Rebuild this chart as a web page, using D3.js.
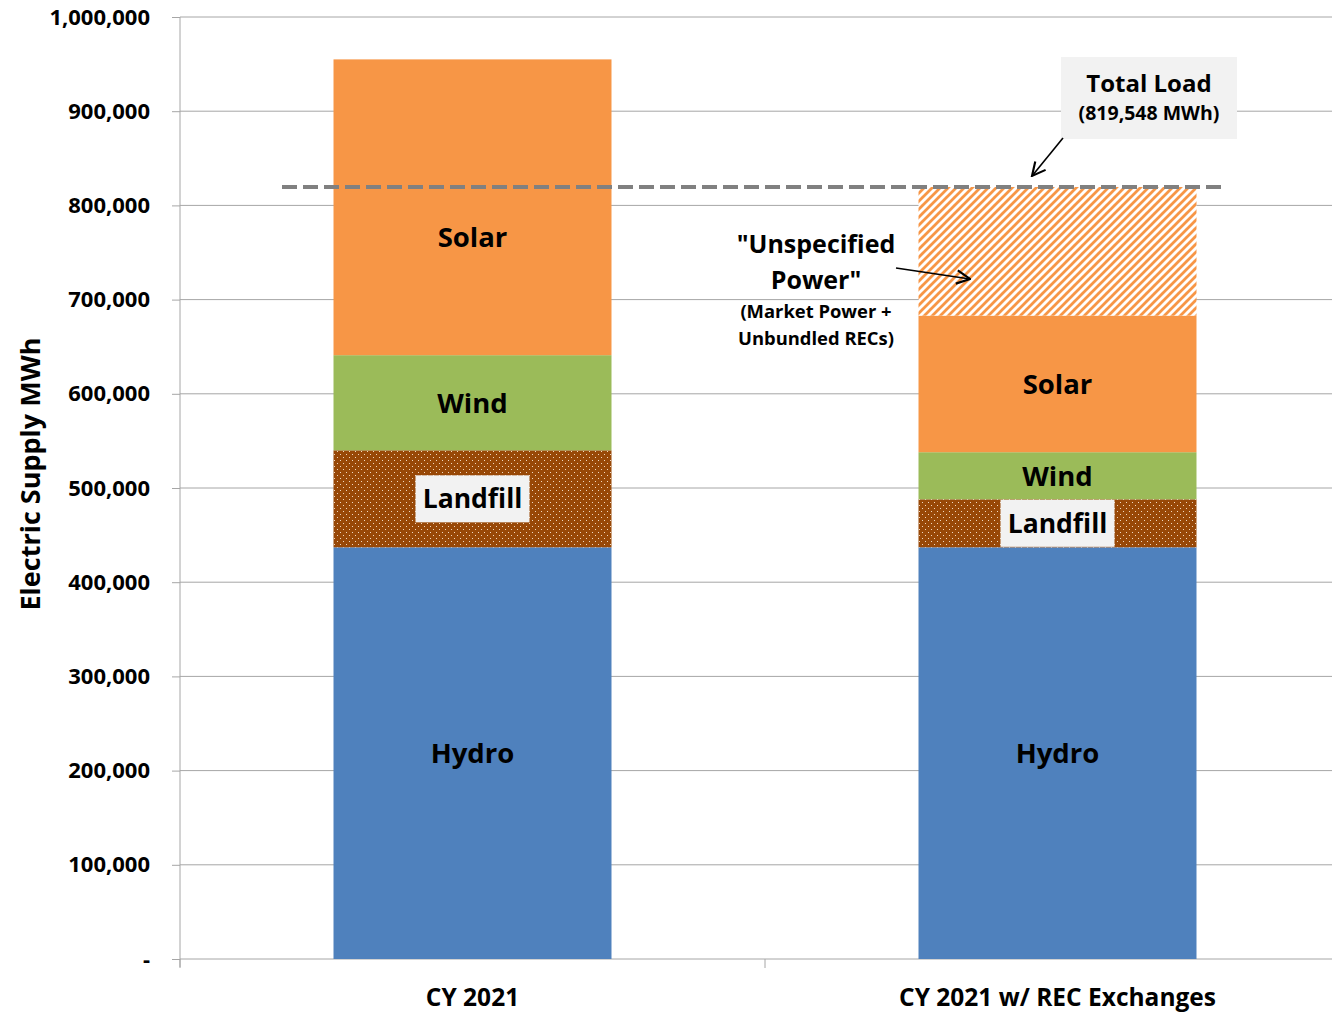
<!DOCTYPE html>
<html><head><meta charset="utf-8">
<script src="https://cdn.jsdelivr.net/npm/d3@7"></script>
<style>body{margin:0;background:#fff;} text{font-family:"Open Sans",sans-serif;font-weight:bold;fill:#000;}</style>
</head><body>
<svg id="c" width="1332" height="1016"></svg>
<script>
const categories = ["CY 2021", "CY 2021 w/ REC Exchanges"];
const seriesNames = ["Hydro", "Landfill", "Wind", "Solar", "Unspecified"];
const hydro = [437000, 437000];
const landfill = [103000, 51000];
const wind = [101000, 50000];
const solar = [314000, 145000];
const unspecified = [0, 136548];
const totalLoad = 819548;
const yTicks = [0, 100000, 200000, 300000, 400000, 500000, 600000, 700000, 800000, 900000, 1000000];
const segLabels = ["Hydro", "Landfill", "Wind", "Solar", ""];

const colors = {Hydro:"#4f81bd", Landfill:"url(#dots)", Wind:"#9bbb59", Solar:"#f79646", Unspecified:"url(#hatch)"};

const svg = d3.select("#c");
const defs = svg.append("defs");
const pd = defs.append("pattern").attr("id","dots").attr("patternUnits","userSpaceOnUse").attr("width",6).attr("height",6);
pd.append("rect").attr("width",6).attr("height",6).attr("fill","#984807");
pd.append("rect").attr("x",1).attr("y",1).attr("width",1).attr("height",1).attr("fill","#f0d8c0");
pd.append("rect").attr("x",4).attr("y",4).attr("width",1).attr("height",1).attr("fill","#f0d8c0");
const ph = defs.append("pattern").attr("id","hatch").attr("patternUnits","userSpaceOnUse").attr("width",8).attr("height",8);
ph.append("rect").attr("width",8).attr("height",8).attr("fill","#fff");
ph.append("path").attr("d","M-2,2 L2,-2 M0,8 L8,0 M6,10 L10,6").attr("stroke","#f79646").attr("stroke-width",2.8);
const mk = defs.append("marker").attr("id","arr").attr("viewBox","0 0 12 12").attr("refX",11).attr("refY",6)
  .attr("markerWidth",16).attr("markerHeight",16).attr("markerUnits","userSpaceOnUse").attr("orient","auto");
mk.append("path").attr("d","M1,1 L11,6 L1,11").attr("fill","none").attr("stroke","#000").attr("stroke-width",1.6);

const y = d3.scaleLinear().domain([0,1000000]).range([959,17]);
const x = d3.scaleBand().domain(categories).range([180,1350]).paddingInner(0.5248).paddingOuter(0.2624);

// gridlines
svg.append("g").selectAll("line").data(yTicks.slice(1)).join("line")
  .attr("x1",180).attr("x2",1332).attr("y1",d=>y(d)).attr("y2",d=>y(d))
  .attr("stroke","#a6a6a6").attr("stroke-width",1);

// y axis
const yAxis = svg.append("g").attr("transform","translate(180,0)")
  .call(d3.axisLeft(y).tickValues(yTicks).tickSize(8).tickPadding(22)
    .tickFormat(d=> d===0 ? "-" : d3.format(",")(d)));
yAxis.select(".domain").attr("stroke","#a6a6a6").attr("d","M0,17V967");
yAxis.selectAll(".tick line").attr("stroke","#a6a6a6");
yAxis.selectAll("text").style("font-size","22px").attr("fill","#000").style("font-family","'Open Sans',sans-serif").style("font-weight","bold");

// x axis
const xAxis = svg.append("g").attr("transform","translate(0,959)");
xAxis.append("line").attr("x1",180).attr("x2",1332).attr("y1",0).attr("y2",0).attr("stroke","#a6a6a6");
const sep = [x.range()[0], (x(categories[0])+x.bandwidth()/2 + x(categories[1])+x.bandwidth()/2)/2];
xAxis.selectAll(".sep").data(sep).join("line").attr("x1",d=>d).attr("x2",d=>d).attr("y1",0).attr("y2",9).attr("stroke","#a6a6a6");
xAxis.selectAll(".cl").data(categories).join("text")
  .attr("x",d=>x(d)+x.bandwidth()/2).attr("y",47).attr("text-anchor","middle").style("font-size","24.5px").text(d=>d);

// stacks
const rows = categories.map((c,i)=>({cat:c, Hydro:hydro[i], Landfill:landfill[i], Wind:wind[i], Solar:solar[i], Unspecified:unspecified[i]}));
const stack = d3.stack().keys(seriesNames)(rows);
const gBars = svg.append("g");
stack.forEach(s=>{
  gBars.selectAll(null).data(s).join("rect")
    .attr("x",d=>x(d.data.cat)).attr("width",x.bandwidth())
    .attr("y",d=>y(d[1])).attr("height",d=>y(d[0])-y(d[1]))
    .attr("fill",colors[s.key]);
});

// labels
const gl = svg.append("g");
stack.forEach((s,k)=>{
  const name = segLabels[k];
  if(!name) return;
  s.forEach((d,i)=>{
    const cx = x(d.data.cat)+x.bandwidth()/2;
    let cy = (y(d[0])+y(d[1]))/2;
    if(name==="Solar" && i===0) cy += 30;
    if(name==="Landfill"){
      const w = 114, h = 47;
      gl.append("rect").attr("x",cx-w/2).attr("y",cy-h/2).attr("width",w).attr("height",h).attr("fill","#f2f2f2");
    }
    gl.append("text").attr("x",cx).attr("y",cy).attr("dy","0.36em").attr("text-anchor","middle")
      .style("font-size", name==="Landfill" ? "26.5px" : "27.5px").text(name);
  });
});

// total load line
svg.append("line").attr("x1",282).attr("x2",1226).attr("y1",y(totalLoad)).attr("y2",y(totalLoad))
  .attr("stroke","#808080").attr("stroke-width",4).attr("stroke-dasharray","15,6");

// Total Load callout
svg.append("rect").attr("x",1061).attr("y",57).attr("width",176).attr("height",82).attr("fill","#f2f2f2");
svg.append("text").attr("x",1149).attr("y",92).attr("text-anchor","middle").style("font-size","24px").text("Total Load");
svg.append("text").attr("x",1149).attr("y",120).attr("text-anchor","middle").style("font-size","19.5px").text("(819,548 MWh)");
svg.append("line").attr("x1",1063).attr("y1",138).attr("x2",1032).attr("y2",176).attr("stroke","#000").attr("stroke-width",1.6).attr("marker-end","url(#arr)");

// Unspecified callout
const ux = 816;
svg.append("text").attr("x",ux).attr("y",253).attr("text-anchor","middle").style("font-size","25px").text("\"Unspecified");
svg.append("text").attr("x",ux).attr("y",289).attr("text-anchor","middle").style("font-size","25px").text("Power\"");
svg.append("text").attr("x",ux).attr("y",318).attr("text-anchor","middle").style("font-size","18.4px").text("(Market Power +");
svg.append("text").attr("x",ux).attr("y",345).attr("text-anchor","middle").style("font-size","18.4px").text("Unbundled RECs)");
svg.append("line").attr("x1",896).attr("y1",268).attr("x2",970).attr("y2",279).attr("stroke","#000").attr("stroke-width",1.6).attr("marker-end","url(#arr)");

// y title
svg.append("text").attr("transform","translate(40,474) rotate(-90)").attr("text-anchor","middle").style("font-size","27px").text("Electric Supply MWh");
</script>
</body></html>
